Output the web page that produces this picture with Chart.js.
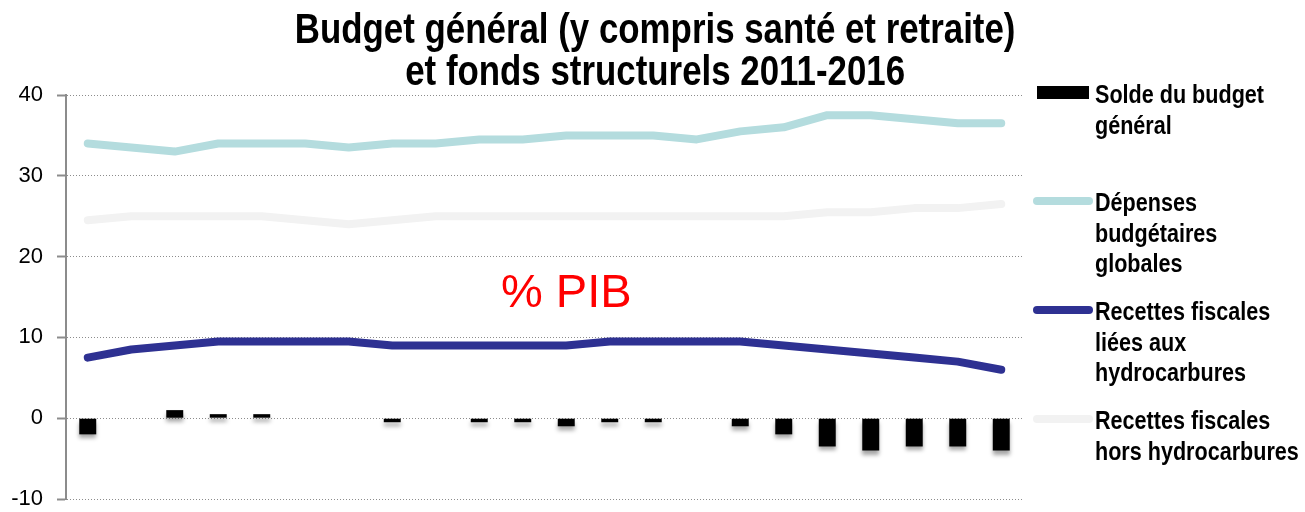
<!DOCTYPE html>
<html>
<head>
<meta charset="utf-8">
<script src="https://cdn.jsdelivr.net/npm/chart.js@4.4.1/dist/chart.umd.min.js"></script>
<style>
    body { margin: 0; background: #fff; }
    #wrap { position: relative; width: 1305px; height: 512px; }
    #title {
        position: absolute; left: 3px; top: 8px; width: 1305px; text-align: center;
        font: bold 42px/42px "Liberation Sans", Arial, sans-serif; color: #000;
    }
    /* police étroite simulée */
    .narrow { display: inline-block; transform: scaleX(0.83); transform-origin: center; white-space: pre; }
    #legend { position: absolute; left: 1030px; top: 0; width: 275px; height: 512px; }
    .item { position: absolute; left: 0; }
    .item .sw { position: absolute; left: 3px; }
    .item .txt {
        position: absolute; left: 65px; white-space: pre; color: #000;
        transform: scaleX(0.83); transform-origin: left;
        font: bold 26px/30.5px "Liberation Sans", Arial, sans-serif;
    }
</style>
</head>
<body>
<div id="wrap">
    <canvas id="budgetChart" width="1305" height="512"></canvas>
    <div id="title"><span class="narrow">Budget général (y compris santé et retraite)</span><br><span class="narrow">et fonds structurels 2011-2016</span></div>
    <div id="legend"></div>
</div>
<script>
// 22 périodes 2011-2016
const periods = ['2011T1','2011T2','2011T3','2011T4','2012T1','2012T2','2012T3','2012T4',
    '2013T1','2013T2','2013T3','2013T4','2014T1','2014T2','2014T3','2014T4',
    '2015T1','2015T2','2015T3','2015T4','2016T1','2016T2'];

const solde = [-2, 0, 1, 0.5, 0.5, 0, 0, -0.5, 0, -0.5, -0.5, -1, -0.5, -0.5, 0, -1, -2, -3.5, -4, -3.5, -3.5, -4];
const depenses = [34, 33.5, 33, 34, 34, 34, 33.5, 34, 34, 34.5, 34.5, 35, 35, 35, 34.5, 35.5, 36, 37.5, 37.5, 37, 36.5, 36.5];
const recettesHydro = [7.5, 8.5, 9, 9.5, 9.5, 9.5, 9.5, 9, 9, 9, 9, 9, 9.5, 9.5, 9.5, 9.5, 9, 8.5, 8, 7.5, 7, 6];
const recettesHors = [24.5, 25, 25, 25, 25, 24.5, 24, 24.5, 25, 25, 25, 25, 25, 25, 25, 25, 25, 25.5, 25.5, 26, 26, 26.5];

const seriesNames = ['Solde du budget\ngénéral', 'Dépenses\nbudgétaires\nglobales',
    'Recettes fiscales\nliées aux\nhydrocarbures', 'Recettes fiscales\nhors hydrocarbures'];
const seriesColors = ['#000000', '#B4DCDE', '#2E3192', '#F2F2F2'];

const yTicks = [-10, 0, 10, 20, 30, 40];
const noteText = '% PIB';
const notePos = { index: 11, value: 15.4 };

// ombre légère sous les barres
const barShadow = {
    id: 'barShadow',
    beforeDatasetDraw(chart, args) {
        if (args.index !== 0) return;
        const ctx = chart.ctx;
        ctx.save();
        ctx.shadowColor = 'rgba(0,0,0,0.35)';
        ctx.shadowBlur = 4;
        ctx.shadowOffsetY = 4;
    },
    afterDatasetDraw(chart, args) {
        if (args.index === 0) chart.ctx.restore();
    }
};

const pibNote = {
    id: 'pibNote',
    afterDatasetsDraw(chart) {
        const { ctx, scales: { x, y } } = chart;
        ctx.save();
        ctx.font = '47px "Liberation Sans", Arial, sans-serif';
        ctx.fillStyle = '#FF0000';
        ctx.textAlign = 'center';
        ctx.textBaseline = 'middle';
        ctx.fillText(noteText, x.getPixelForValue(notePos.index), y.getPixelForValue(notePos.value));
        ctx.restore();
    }
};

const lineDs = (i, data) => ({
    type: 'line', label: seriesNames[i], data,
    borderColor: seriesColors[i], backgroundColor: seriesColors[i],
    borderWidth: 8, pointRadius: 0, tension: 0,
    borderCapStyle: 'round', borderJoinStyle: 'round', order: 1
});

const ctx = document.getElementById('budgetChart').getContext('2d');
const chart = new Chart(ctx, {
    data: {
        labels: periods,
        datasets: [
            { type: 'bar', label: seriesNames[0], data: solde, backgroundColor: seriesColors[0],
              barPercentage: 0.39, categoryPercentage: 1, order: 2 },
            lineDs(1, depenses),
            lineDs(2, recettesHydro),
            lineDs(3, recettesHors)
        ]
    },
    options: {
        responsive: false,
        animation: false,
        layout: { padding: { left: 0, right: 282, top: 95, bottom: 13 } },
        plugins: { legend: { display: false }, title: { display: false }, tooltip: { enabled: false } },
        scales: {
            x: { display: false, offset: true },
            y: {
                min: yTicks[0], max: yTicks[yTicks.length - 1],
                afterBuildTicks: s => { s.ticks = yTicks.map(v => ({ value: v })); },
                afterFit: s => { s.width = 66; s.paddingTop = 0; s.paddingBottom = 0; },
                ticks: { color: '#000', padding: 14, font: { family: '"Liberation Sans", Arial, sans-serif', size: 22 } },
                grid: { color: '#8C8C8C', lineWidth: 1, tickLength: 9, tickColor: '#8C8C8C', tickWidth: 2, tickBorderDash: [] },
                border: { display: true, color: '#8C8C8C', width: 2, dash: [1, 2] }
            }
        }
    },
    plugins: [barShadow, pibNote]
});

// légende à droite, construite à partir des séries
const legendTops = [79, 187, 296, 405];
const legend = document.getElementById('legend');
seriesNames.forEach((name, i) => {
    const item = document.createElement('div');
    item.className = 'item';
    item.style.top = legendTops[i] + 'px';
    const sw = document.createElement('div');
    sw.className = 'sw';
    if (i === 0) {
        sw.style.cssText += `left:7px;top:7px;width:52px;height:13px;background:${seriesColors[i]};`;
    } else {
        sw.style.cssText += `top:10px;width:60px;height:8px;border-radius:4px;background:${seriesColors[i]};`;
    }
    const txt = document.createElement('div');
    txt.className = 'txt';
    txt.textContent = name;
    item.appendChild(sw);
    item.appendChild(txt);
    legend.appendChild(item);
});
</script>
</body>
</html>
